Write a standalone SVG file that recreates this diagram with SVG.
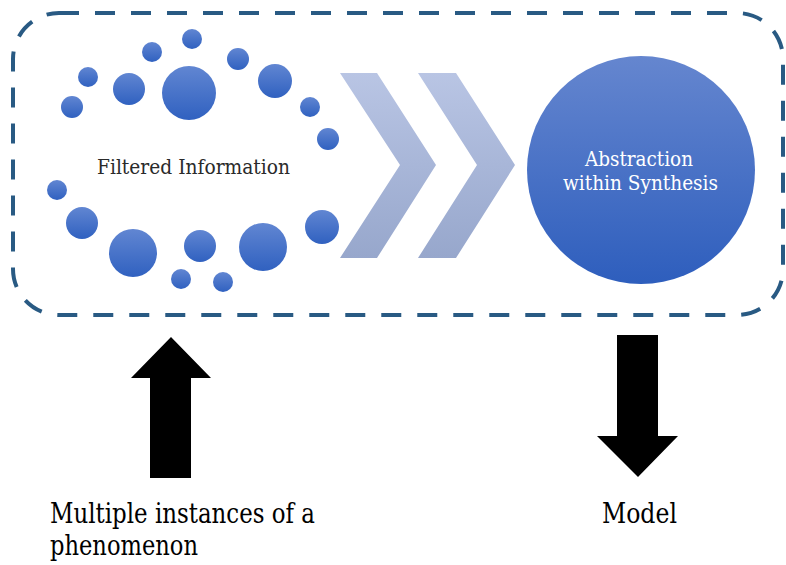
<svg xmlns="http://www.w3.org/2000/svg" width="786" height="565" viewBox="0 0 786 565">
  <defs>
    <linearGradient id="dotFill" x1="0" y1="0" x2="0" y2="1">
      <stop offset="0" stop-color="#6186d2"/>
      <stop offset="1" stop-color="#3061c0"/>
    </linearGradient>
    <linearGradient id="hubFill" x1="0" y1="0" x2="0" y2="1">
      <stop offset="0" stop-color="#6586cf"/>
      <stop offset="1" stop-color="#2e5ebd"/>
    </linearGradient>
    <linearGradient id="chevronFill" gradientUnits="userSpaceOnUse" x1="0" y1="73" x2="0" y2="258">
      <stop offset="0" stop-color="#b9c5e4"/>
      <stop offset="1" stop-color="#97a7cc"/>
    </linearGradient>
  </defs>
  <style>
    .frame { fill: none; stroke: #295a83; stroke-width: 4; stroke-dasharray: 20 16; }
    .dot { fill: url(#dotFill); }
    .chevron { fill: url(#chevronFill); }
    .hub { fill: url(#hubFill); }
    text { font-family: "DejaVu Serif", "Liberation Serif", serif; }
    .inner { font-size: 21px; fill: #2a2a2a; }
    .hubText { font-size: 21px; fill: #ffffff; }
    .caption { font-size: 27px; fill: #000000; }
    .block { fill: #000000; }
  </style>

  <rect x="0" y="0" width="786" height="565" fill="#ffffff"/>

  <!-- dashed boundary -->
  <rect class="frame" x="13" y="13" width="770" height="302" rx="46" ry="46"/>

  <!-- scattered information dots -->
  <g id="filtered-information">
    <circle class="dot" cx="192" cy="39" r="10"/>
    <circle class="dot" cx="152" cy="52" r="10"/>
    <circle class="dot" cx="238" cy="59" r="11"/>
    <circle class="dot" cx="88" cy="77" r="10"/>
    <circle class="dot" cx="129" cy="89" r="16"/>
    <circle class="dot" cx="189" cy="93" r="27"/>
    <circle class="dot" cx="275" cy="81" r="17"/>
    <circle class="dot" cx="72" cy="107" r="11"/>
    <circle class="dot" cx="310" cy="107" r="10"/>
    <circle class="dot" cx="328" cy="139" r="11"/>
    <circle class="dot" cx="57" cy="190" r="10"/>
    <circle class="dot" cx="82" cy="223" r="16"/>
    <circle class="dot" cx="322" cy="227" r="17"/>
    <circle class="dot" cx="133" cy="253" r="24"/>
    <circle class="dot" cx="200" cy="246" r="16"/>
    <circle class="dot" cx="263" cy="247" r="24"/>
    <circle class="dot" cx="181" cy="279" r="10"/>
    <circle class="dot" cx="223" cy="282" r="10"/>
    <text class="inner" x="97" y="174" textLength="193" lengthAdjust="spacingAndGlyphs">Filtered Information</text>
  </g>

  <!-- process chevrons and in/out arrows -->
  <g id="connectors">
    <polygon class="chevron" points="340,73 377,73 436,165 377,258 340,258 400,165"/>
    <polygon class="chevron" points="418,73 456,73 515,165 456,258 418,258 477,165"/>
    <polygon class="block" points="150,478 191,478 191,378 211,378 171,337 131,378 150,378"/>
    <polygon class="block" points="617,335 658,335 658,436 678,436 638,477 597,436 617,436"/>
  </g>

  <g id="abstraction">
    <circle class="hub" cx="641" cy="170" r="114"/>
    <text class="hubText" x="585" y="166" textLength="108" lengthAdjust="spacingAndGlyphs">Abstraction</text>
    <text class="hubText" x="563" y="190" textLength="155" lengthAdjust="spacingAndGlyphs">within Synthesis</text>
  </g>

  <g id="input-label">
    <text class="caption" x="50" y="523" textLength="265" lengthAdjust="spacingAndGlyphs">Multiple instances of a</text>
    <text class="caption" x="50" y="555" textLength="148" lengthAdjust="spacingAndGlyphs">phenomenon</text>
  </g>

  <g id="output-label">
    <text class="caption" x="602" y="523" textLength="75" lengthAdjust="spacingAndGlyphs">Model</text>
  </g>
</svg>
